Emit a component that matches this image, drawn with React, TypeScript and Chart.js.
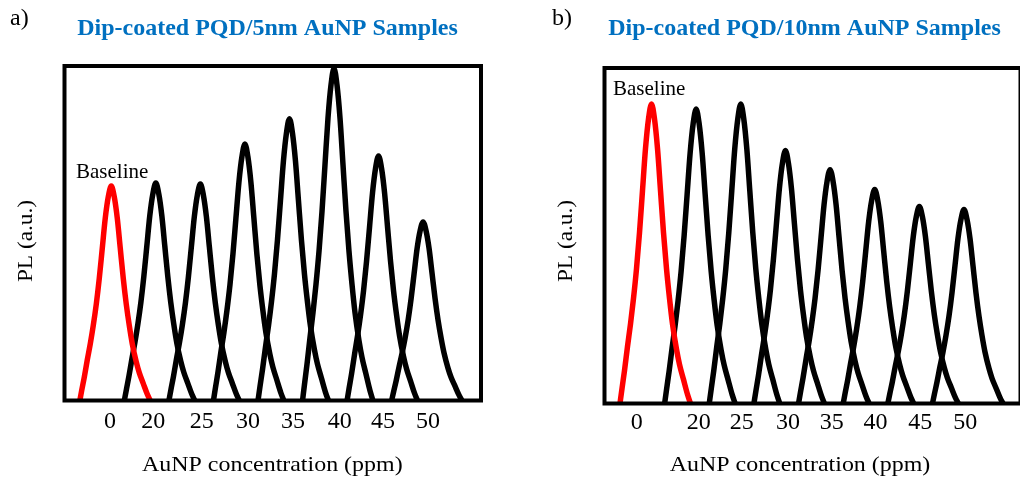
import React, { useEffect, useRef } from "react";
import { Chart, registerables } from "chart.js";

Chart.register(...registerables);

// ---- data ----
const CONCENTRATION_LABELS = ["0", "20", "25", "30", "35", "40", "45", "50"];
// peak centres, in "sample slot" units along the x axis
const PEAK_SLOTS = [0, 1, 2, 3, 4, 5, 6, 7];
// peak PL heights (a.u., relative to the full panel height)
const PEAKS_5NM = [0.641, 0.65, 0.647, 0.767, 0.842, 0.993, 0.731, 0.534];
const PEAKS_10NM = [0.893, 0.878, 0.893, 0.754, 0.697, 0.638, 0.587, 0.578];
// where each concentration label sits along the x axis
const TICKS_5NM = [-0.03, 0.94, 2.03, 3.07, 4.08, 5.13, 6.1, 7.11];
const TICKS_10NM = [-0.33, 1.06, 2.02, 3.06, 4.04, 5.02, 6.02, 7.03];
// common emission-band shape (offset from centre, relative level)
const PROFILE_OFFSETS = [
  -0.706, -0.661, -0.605, -0.538, -0.471, -0.404, -0.336, -0.269, -0.202, -0.135, -0.067, 0,
  0.067, 0.135, 0.202, 0.269, 0.336, 0.404, 0.471, 0.561, 0.628, 0.717, 0.807, 0.874,
];
const PROFILE_LEVELS = [
  0, 0.05, 0.11, 0.19, 0.265, 0.35, 0.45, 0.57, 0.71, 0.85, 0.95, 1,
  0.95, 0.85, 0.71, 0.57, 0.45, 0.35, 0.265, 0.18, 0.13, 0.08, 0.03, 0,
];

const SERIF = "'Liberation Serif', 'Times New Roman', serif";

type TextCfg = {
  letter: string; letterX: number;
  title: string; titleX: number;
  xTitleX: number; yTitleX: number;
  baseX: number; baseY: number;
};

function drawText(
  ctx: CanvasRenderingContext2D, str: string, x: number, y: number, font: string,
  color: string, align: CanvasTextAlign, stretch = 1, rotate = 0
) {
  ctx.save();
  ctx.translate(x, y);
  if (rotate) ctx.rotate(rotate);
  ctx.scale(stretch, 1);
  ctx.font = font;
  ctx.fillStyle = color;
  ctx.textAlign = align;
  ctx.textBaseline = "alphabetic";
  ctx.fillText(str, 0, 0);
  ctx.restore();
}

function makeDatasets(heights: number[]) {
  return heights.map((h, i) => ({
    label: CONCENTRATION_LABELS[i],
    data: PROFILE_OFFSETS.map((o, k) => ({ x: PEAK_SLOTS[i] + o, y: h * PROFILE_LEVELS[k] })),
    borderColor: i === 0 ? "#ff0000" : "#000000",
    backgroundColor: "transparent",
    borderWidth: 5.5,
    pointRadius: 0,
    fill: false,
    cubicInterpolationMode: "monotone" as const,
    borderJoinStyle: "round" as const,
  }));
}

type PanelProps = {
  heights: number[];
  ticks: number[];
  xMin: number; xMax: number;
  padLeft: number; padRight: number; padTop: number;
  xAxisHeight: number; tickPad: number;
  width: number; left: number;
  text: TextCfg;
};

function Panel(p: PanelProps) {
  const ref = useRef<HTMLCanvasElement>(null);
  useEffect(() => {
    const decor = {
      id: "panelDecor",
      afterDatasetsDraw(chart: Chart) {
        const { ctx, chartArea: a } = chart;
        ctx.save();
        ctx.lineWidth = 4;
        ctx.strokeStyle = "#000";
        ctx.lineJoin = "miter";
        ctx.strokeRect(a.left, a.top, a.right - a.left, a.bottom - a.top);
        ctx.restore();
        const t = p.text;
        drawText(ctx, t.letter, t.letterX, 25, `24px ${SERIF}`, "#000", "left");
        drawText(ctx, t.title, t.titleX, 35, `bold 24px ${SERIF}`, "#0070C0", "center");
        drawText(ctx, "AuNP concentration (ppm)", t.xTitleX, 470.5, `21px ${SERIF}`, "#000", "center", 1.14);
        drawText(ctx, "PL (a.u.)", t.yTitleX, 241, `21px ${SERIF}`, "#000", "center", 1.11, -Math.PI / 2);
        drawText(ctx, "Baseline", t.baseX, t.baseY, `21px ${SERIF}`, "#000", "left");
      },
    };
    const chart = new Chart(ref.current!, {
      type: "line",
      data: { datasets: makeDatasets(p.heights) as any },
      options: {
        responsive: false,
        animation: false,
        layout: { padding: { left: p.padLeft, right: p.padRight, top: p.padTop, bottom: 0 } },
        plugins: { legend: { display: false }, tooltip: { enabled: false }, title: { display: false } },
        scales: {
          x: {
            type: "linear",
            min: p.xMin,
            max: p.xMax,
            bounds: "data",
            grid: { display: false, drawTicks: false },
            border: { display: false },
            ticks: {
              autoSkip: false,
              maxRotation: 0,
              padding: p.tickPad,
              color: "#000",
              font: { family: SERIF, size: 24 },
              callback: (_v: any, i: number) => CONCENTRATION_LABELS[i],
            },
            afterBuildTicks: (scale: any) => {
              scale.ticks = p.ticks.map((v) => ({ value: v }));
            },
            afterFit: (scale: any) => {
              scale.height = p.xAxisHeight;
            },
          },
          y: { type: "linear", display: false, min: 0, max: 1 },
        },
      } as any,
      plugins: [decor],
    });
    return () => chart.destroy();
  }, []);
  return (
    <canvas
      ref={ref}
      width={p.width}
      height={480}
      style={{ position: "absolute", left: p.left, top: 0, width: p.width, height: 480 }}
    />
  );
}

export default function App() {
  return (
    <div style={{ position: "fixed", left: 0, top: 0, width: 1020, height: 480, overflow: "hidden", background: "#fff" }}>
      <Panel
        heights={PEAKS_5NM}
        ticks={TICKS_5NM}
        xMin={-1.05}
        xMax={8.3}
        padLeft={64.5}
        padRight={29}
        padTop={66}
        xAxisHeight={79.5}
        tickPad={6.5}
        width={510}
        left={0}
        text={{
          letter: "a)", letterX: 10,
          title: "Dip-coated PQD/5nm AuNP Samples", titleX: 267.5,
          xTitleX: 272.3, yTitleX: 31.5,
          baseX: 76, baseY: 177.5,
        }}
      />
      <Panel
        heights={PEAKS_10NM}
        ticks={TICKS_10NM}
        xMin={-1.053}
        xMax={8.266}
        padLeft={94.5}
        padRight={9.5}
        padTop={68}
        xAxisHeight={76.5}
        tickPad={4.6}
        width={520}
        left={510}
        text={{
          letter: "b)", letterX: 42,
          title: "Dip-coated PQD/10nm AuNP Samples", titleX: 294.5,
          xTitleX: 290, yTitleX: 61.5,
          baseX: 103, baseY: 94.5,
        }}
      />
    </div>
  );
}
